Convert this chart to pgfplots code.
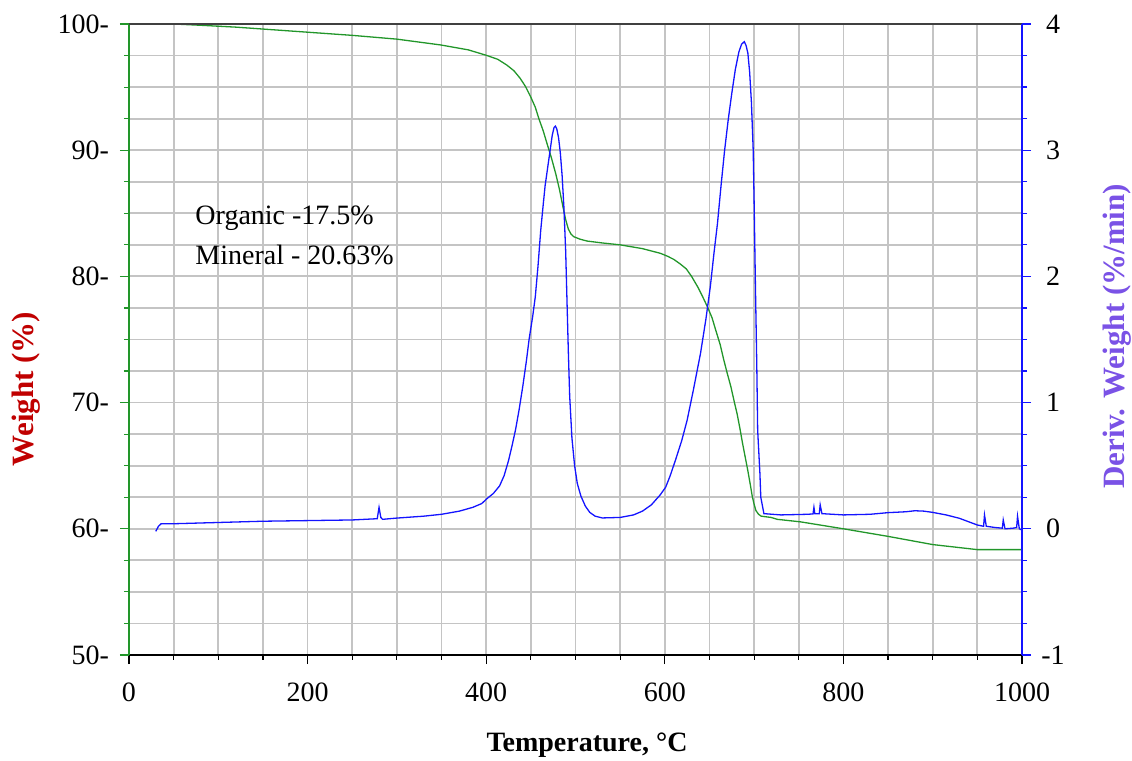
\documentclass[border=0pt]{standalone}
\usepackage{pgfplots}
\pgfplotsset{compat=1.18}
\usepackage{fontspec}
\setmainfont{Liberation Serif}

\definecolor{tgagreen}{HTML}{22962A}
\definecolor{dtgblue}{HTML}{1414FF}
\definecolor{wlabel}{HTML}{C00000}
\definecolor{dlabel}{HTML}{7A52E6}
\definecolor{gridgray}{HTML}{C4C4C4}

\newcommand{\lblfont}{\fontsize{14}{16.8}\selectfont}
\newcommand{\ylblfont}{\fontsize{15.5}{18.6}\selectfont}

% Weight loss (TGA), %
\pgfplotstableread{
T W
30 100.0
50 100.0
80 99.9
120 99.75
160 99.55
200 99.35
250 99.1
300 98.8
349 98.34
380 97.95
401 97.5
413 97.2
423 96.75
431 96.3
438 95.7
444 95.05
450 94.2
455 93.4
459 92.5
464 91.5
468 90.55
473 89.4
478 88.1
482 86.9
486 85.5
489 84.5
492 83.75
495 83.35
498 83.15
505 82.95
513 82.8
530 82.65
550 82.5
575 82.2
595 81.83
603 81.6
610 81.35
617 81.0
624 80.6
630 80.0
637 79.15
643 78.3
648 77.55
653 76.7
657 75.75
662 74.6
666 73.4
670 72.3
674 71.26
678 70.0
681 69.1
684 68.0
687 66.8
690 65.7
693 64.6
696 63.4
698 62.55
700 61.95
702 61.45
705 61.15
708 61.0
719 60.9
726 60.75
752 60.55
800 60.0
850 59.4
900 58.75
950 58.35
1000 58.35
}\tga

% Derivative weight (DTG), %/min
\pgfplotstableread{
T D
30 -0.02
33 0.02
36 0.04
50 0.04
100 0.05
150 0.06
200 0.065
250 0.07
278 0.08
280 0.17
282 0.09
284 0.075
300 0.085
330 0.10
350 0.115
370 0.14
385 0.17
395 0.20
401 0.24
408 0.28
415 0.34
420 0.42
425 0.54
429 0.66
433 0.79
437 0.95
441 1.13
445 1.33
448 1.50
452 1.68
455 1.84
458 2.08
461 2.36
464 2.58
466 2.72
470 2.92
474 3.12
476 3.18
477.5 3.19
479 3.17
481 3.10
483 2.98
485 2.80
487 2.55
489 2.20
490.5 1.80
492 1.40
493.5 1.05
496 0.72
499 0.50
502 0.36
506 0.26
511 0.18
516 0.13
522 0.10
530 0.086
550 0.09
565 0.11
575 0.14
585 0.19
595 0.27
601 0.33
606 0.42
612 0.545
619 0.70
625 0.86
632 1.10
640 1.39
646 1.66
651 1.92
655 2.18
659 2.42
663 2.72
667 3.00
671 3.24
675 3.45
679 3.64
683 3.78
686 3.84
689 3.86
691 3.83
693 3.77
695 3.62
697 3.38
699 3.00
700 2.60
701.5 1.92
703 1.30
704 0.78
706.5 0.44
707.5 0.25
711 0.12
730 0.11
760 0.115
766 0.118
767 0.17
768 0.12
773 0.12
774 0.19
776 0.12
800 0.11
830 0.115
850 0.128
870 0.135
880 0.143
890 0.14
900 0.13
915 0.11
930 0.083
950 0.03
957 0.02
958 0.11
960 0.02
970 0.01
978 0.005
979 0.07
981 0.0
990 0.005
994 0.01
995 0.10
997 0.0
1000 -0.01
}\dtg

\begin{document}
\begin{tikzpicture}
\useasboundingbox (-64.5pt,-53pt) rectangle (501.5pt,327.5pt);

\begin{axis}[
  at={(0pt,0pt)}, anchor=south west,
  scale only axis, width=446.5pt, height=315.5pt,
  xmin=0, xmax=1000, ymin=50, ymax=100,
  axis x line*=bottom, axis y line*=left,
  x axis line style={black, line width=0.75pt},
  y axis line style={tgagreen, line width=0.75pt},
  tick align=outside,
  xtick={0,200,...,1000},
  xticklabels={0,200,400,600,800,1000},
  minor xtick={50,100,...,950},
  ytick={50,60,...,100},
  yticklabels={50-,60-,70-,80-,90-,100-},
  minor ytick={52.5,55,...,97.5},
  grid=both,
  grid style={gridgray, line width=0.9pt},
  minor grid style={gridgray, line width=0.9pt},
  major tick length=4.5pt, minor tick length=2.5pt,
  every major x tick/.append style={black, line width=0.6pt},
  every minor x tick/.append style={black, line width=0.6pt},
  every major y tick/.append style={tgagreen, line width=0.6pt},
  every minor y tick/.append style={tgagreen, line width=0.6pt},
  xticklabel style={font=\lblfont, anchor=north, yshift=-6pt},
  yticklabel style={font=\lblfont, anchor=east, xshift=-2pt},
  every axis x label/.style={at={(axis description cs:0.5129,-0.1426)}, anchor=center},
  every axis y label/.style={at={(axis description cs:-0.1148,0.4216)}, rotate=90, anchor=center},
  xlabel={\lblfont\bfseries Temperature, °C},
  ylabel={\ylblfont\bfseries\color{wlabel}Weight (\%)},
]
\addplot[tgagreen, line width=0.65pt] table[x=T, y=W] {\tga};
\node[anchor=west, font=\lblfont, inner sep=0pt] at (axis cs:74,84.6) {Organic -17.5\%};
\node[anchor=west, font=\lblfont, inner sep=0pt] at (axis cs:74,81.7) {Mineral - 20.63\%};
\end{axis}

\begin{axis}[
  at={(0pt,0pt)}, anchor=south west,
  scale only axis, width=446.5pt, height=315.5pt,
  xmin=0, xmax=1000, ymin=-1, ymax=4,
  axis x line*=top, axis y line*=right,
  x axis line style={black!75, line width=0.75pt},
  y axis line style={dtgblue, line width=0.75pt},
  xtick=\empty,
  tick align=outside,
  ytick={-1,0,...,4},
  yticklabels={-1,0,1,2,3,4},
  minor ytick={-0.75,-0.5,...,3.75},
  major tick length=4.5pt, minor tick length=2.5pt,
  every major y tick/.append style={dtgblue, line width=0.6pt},
  every minor y tick/.append style={dtgblue, line width=0.6pt},
  yticklabel style={font=\lblfont, anchor=center, xshift=11pt},
  every axis y label/.style={at={(axis description cs:1.1064,0.505)}, rotate=90, anchor=center},
  ylabel={\ylblfont\bfseries\color{dlabel}Deriv. Weight (\%/min)},
]
\addplot[dtgblue, line width=0.65pt] table[x=T, y=D] {\dtg};
\end{axis}
\end{tikzpicture}
\end{document}
